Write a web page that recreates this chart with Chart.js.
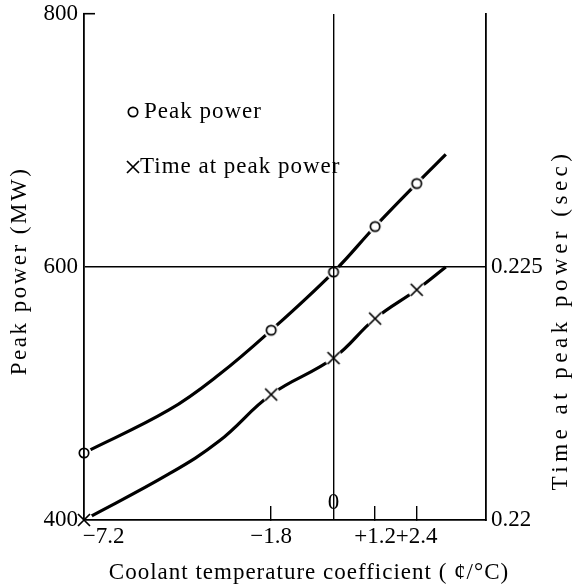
<!DOCTYPE html>
<html>
<head>
<meta charset="utf-8">
<script src="https://cdn.jsdelivr.net/npm/chart.js@4/dist/chart.umd.min.js"></script>
<style>
  html, body { margin: 0; padding: 0; background: #fff; }
</style>
</head>
<body>
<canvas id="chart" width="574" height="587"></canvas>
<script>
// measured points (markers)
const coefficients = [-7.2, -1.8, 0, 1.2, 2.4];
const peakPower = [453, 550, 596, 632, 666];
const timeAtPeak = [0.2200, 0.22248, 0.2232, 0.22398, 0.22455];

// the drawn curves (they run on past the last marker)
const curveCoefficients = [-7.2, -4.75, -3.3, -1.8, 0, 1.2, 2.4, 3.24];
const peakPowerCurve = [453, 487, 515, 550, 596, 632, 666, 689];
const timeCurve = [0.2200, 0.22091, 0.22156, 0.22248, 0.2232, 0.22398, 0.22455, 0.2250];

const xTicks = [-7.2, -1.8, 0, 1.2, 2.4];
const xTickLabels = ['\u2007\u2007\u2007\u2009\u22127.2', '\u22121.8', '', '+1.2', '+2.4'];
const powerTicks = [400, 600, 800];
const timeTicks = [0.22, 0.225];

const SERIF = '"Liberation Serif", "DejaVu Serif", serif';

function pairs(xs, ys) {
  return xs.map((x, i) => ({ x: x, y: ys[i] }));
}

// marker with a white halo so the curve breaks around it
function markerImage(kind) {
  const c = document.createElement('canvas');
  c.width = 22; c.height = 22;
  const g = c.getContext('2d');
  g.fillStyle = '#fff';
  g.beginPath();
  g.arc(11, 11, kind === 'circle' ? 7.5 : 9, 0, Math.PI * 2);
  g.fill();
  g.strokeStyle = '#000';
  g.lineWidth = 1.7;
  g.beginPath();
  if (kind === 'circle') {
    g.arc(11, 11, 4.7, 0, Math.PI * 2);
  } else {
    g.moveTo(5, 5); g.lineTo(17, 17);
    g.moveTo(17, 5); g.lineTo(5, 17);
  }
  g.stroke();
  return c;
}
const circleImg = markerImage('circle');
const crossImg = markerImage('cross');

const annotations = {
  id: 'annotations',
  afterDraw(chart) {
    const { ctx, scales, chartArea } = chart;
    ctx.save();
    ctx.fillStyle = '#000';
    ctx.textBaseline = 'middle';

    // zero label sits above the axis
    ctx.font = '23px ' + SERIF;
    ctx.textAlign = 'center';
    ctx.fillText('0', scales.x.getPixelForValue(0), chartArea.bottom - 17);

    // legend inside the plot
    ctx.textAlign = 'left';
    ctx.letterSpacing = '1px';
    const legendItems = [chart.data.datasets[2], chart.data.datasets[3]];
    legendItems.forEach((ds, i) => {
      const y = 112 + i * 55;
      ctx.drawImage(ds.pointStyle, 133 - 11, y - 11);
      ctx.fillText(ds.label, i === 0 ? 144 : 140, y);
    });

    // axis titles
    ctx.textAlign = 'center';
    ctx.letterSpacing = '1px';
    ctx.fillText('Coolant temperature coefficient ( \u00a2/\u00b0C)', 309, 573);

    ctx.save();
    ctx.translate(20, 271);
    ctx.rotate(-Math.PI / 2);
    ctx.letterSpacing = '2.5px';
    ctx.fillText('Peak power (MW)', 0, 0);
    ctx.restore();

    ctx.save();
    ctx.translate(561, 320);
    ctx.rotate(-Math.PI / 2);
    ctx.letterSpacing = '4.5px';
    ctx.fillText('Time at peak power (sec)', 0, 0);
    ctx.restore();

    ctx.restore();
  }
};

function noPadding(scale) {
  scale.paddingTop = 0;
  scale.paddingBottom = 0;
  scale.paddingLeft = 0;
  scale.paddingRight = 0;
}

new Chart(document.getElementById('chart'), {
  type: 'line',
  data: {
    datasets: [{
      label: 'Peak power curve',
      data: pairs(curveCoefficients, peakPowerCurve),
      yAxisID: 'y',
      borderColor: '#000',
      borderWidth: 3.2,
      pointRadius: 0,
      tension: 0.4,
      clip: false,
      order: 4
    }, {
      label: 'Time at peak power curve',
      data: pairs(curveCoefficients, timeCurve),
      yAxisID: 'y2',
      borderColor: '#000',
      borderWidth: 3.2,
      pointRadius: 0,
      tension: 0.4,
      clip: false,
      order: 3
    }, {
      label: 'Peak power',
      data: pairs(coefficients, peakPower),
      yAxisID: 'y',
      showLine: false,
      pointStyle: circleImg,
      pointRadius: 5,
      clip: false,
      order: 2
    }, {
      label: 'Time at peak power',
      data: pairs(coefficients, timeAtPeak),
      yAxisID: 'y2',
      showLine: false,
      pointStyle: crossImg,
      pointRadius: 5,
      clip: false,
      order: 1
    }]
  },
  options: {
    responsive: false,
    animation: false,
    events: [],
    layout: { padding: { top: 14, left: 0, right: 0, bottom: 0 } },
    plugins: {
      legend: { display: false },
      tooltip: { enabled: false }
    },
    scales: {
      x: {
        type: 'linear',
        min: -7.2,
        max: 4.4,
        afterBuildTicks: s => { s.ticks = xTicks.map(v => ({ value: v })); },
        afterFit: s => { s.height = 67; noPadding(s); },
        border: { color: '#000', width: 1.8, z: 1 },
        grid: {
          z: 1,
          lineWidth: 1.4,
          color: c => (c.tick && c.tick.value === 0 ? '#000' : 'rgba(0,0,0,0)'),
          tickColor: c => (c.tick && [-1.8, 1.2, 2.4].includes(c.tick.value) ? '#000' : 'rgba(0,0,0,0)'),
          tickWidth: 1.4,
          tickLength: -14
        },
        ticks: {
          z: 1,
          autoSkip: false,
          maxRotation: 0,
          padding: 17,
          color: '#000',
          font: { family: SERIF, size: 23 },
          callback: (v, i) => xTickLabels[i]
        }
      },
      y: {
        position: 'left',
        min: 400,
        max: 800,
        afterBuildTicks: s => { s.ticks = powerTicks.map(v => ({ value: v })); },
        afterFit: s => { s.width = 84; noPadding(s); },
        border: { color: '#000', width: 1.8, z: 1 },
        grid: {
          z: 1,
          lineWidth: 1.4,
          color: c => (c.tick && c.tick.value === 600 ? '#000' : 'rgba(0,0,0,0)'),
          tickColor: c => (c.tick && c.tick.value === 800 ? '#000' : 'rgba(0,0,0,0)'),
          tickWidth: 1.6,
          tickLength: -11
        },
        ticks: {
          z: 1,
          padding: 17,
          color: '#000',
          font: { family: SERIF, size: 23 },
          callback: v => String(v)
        }
      },
      y2: {
        position: 'right',
        min: 0.22,
        max: 0.23,
        afterBuildTicks: s => { s.ticks = timeTicks.map(v => ({ value: v })); },
        afterFit: s => { s.width = 88; noPadding(s); },
        border: { color: '#000', width: 1.8, z: 1 },
        grid: { display: false, drawTicks: false },
        ticks: {
          z: 1,
          padding: 5,
          color: '#000',
          font: { family: SERIF, size: 23 },
          callback: v => String(v)
        }
      }
    }
  },
  plugins: [annotations]
});
</script>
</body>
</html>
